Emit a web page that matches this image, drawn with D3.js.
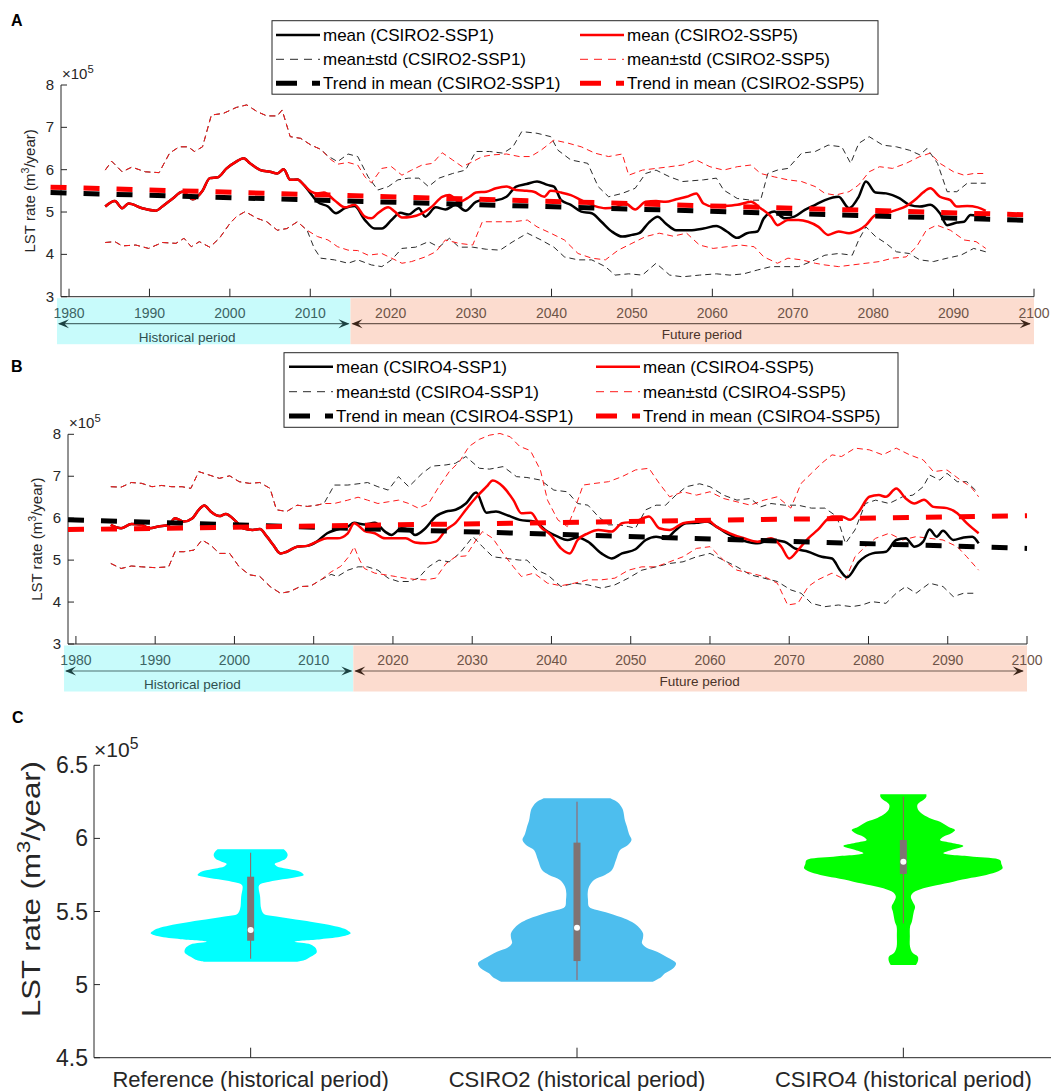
<!DOCTYPE html>
<html>
<head>
<meta charset="utf-8">
<script src="https://cdn.jsdelivr.net/npm/d3@7"></script>
<style>
  body { margin: 0; background: #fff; }
  svg { display: block; font-family: "Liberation Sans", Arial, Helvetica, sans-serif; }
</style>
</head>
<body>
<svg id="chart" width="1051" height="1091"></svg>
<script>
'use strict'

// ---------- shared ticks / labels ----------
const yearTicks = [1980, 1990, 2000, 2010, 2020, 2030, 2040, 2050, 2060, 2070, 2080, 2090, 2100]
const rateTicks = [3, 4, 5, 6, 7, 8]            // x10^5 m3/year
const violinTicks = [4.5, 5, 5.5, 6, 6.5]
const violinCats = ['Reference (historical period)', 'CSIRO2 (historical period)', 'CSIRO4 (historical period)']

// ---------- panel A : CSIRO2 ----------
// [year, value]; the historical part is the same for both scenarios
const aHistMean = [[1984.5,5.13],[1985.7,5.26],[1986.6,5.09],[1987.4,5.20],[1989.1,5.09],[1990.8,5.03],[1991.6,5.13],[1992.9,5.32],[1994.1,5.48],[1995.4,5.30],[1996.6,5.50],[1997.5,5.80],[1998.5,5.82],[1999.6,6.03],[2000.8,6.19],[2001.7,6.27],[2002.5,6.15],[2003.8,5.99],[2005.0,5.95],[2005.9,5.91],[2006.7,6.01],[2007.5,5.76],[2008.4,5.77],[2009.2,5.64]]
const aSsp1Mean = [[2010.0,5.45],[2010.9,5.24],[2012.2,5.13],[2013.2,4.97],[2014.3,5.09],[2015.5,5.14],[2016.8,4.81],[2018.0,4.61],[2018.9,4.61],[2020.1,4.81],[2021.2,4.98],[2022.2,4.94],[2023.5,5.09],[2024.3,4.89],[2025.6,5.11],[2026.8,5.06],[2028.1,5.17],[2029.3,5.03],[2030.6,5.24],[2031.9,5.30],[2033.1,5.28],[2034.4,5.36],[2035.6,5.60],[2036.9,5.66],[2038.2,5.72],[2039.5,5.64],[2040.3,5.60],[2041.2,5.28],[2042.4,5.17],[2043.7,5.01],[2045.0,4.97],[2046.2,4.77],[2047.5,4.54],[2048.8,4.42],[2050.0,4.46],[2050.9,4.50],[2052.1,4.75],[2053.2,4.89],[2054.2,4.73],[2055.5,4.57],[2057.2,4.57],[2058.9,4.61],[2060.5,4.67],[2061.8,4.54],[2063.1,4.39],[2064.3,4.50],[2065.6,4.54],[2066.4,4.85],[2067.7,5.01],[2069.0,4.85],[2070.2,4.89],[2071.5,5.05],[2072.8,5.17],[2074.0,5.28],[2075.7,5.36],[2077.0,5.09],[2078.2,5.36],[2079.1,5.72],[2080.3,5.46],[2081.6,5.44],[2083.3,5.32],[2084.5,5.17],[2085.8,5.13],[2087.1,5.17],[2088.3,4.97],[2089.2,4.69],[2090.4,4.75],[2091.3,4.77],[2092.1,4.93],[2094.0,4.87]]
const aSsp5Mean = [[2010.1,5.48],[2010.9,5.44],[2011.7,5.46],[2013.0,5.28],[2014.3,5.11],[2015.5,5.17],[2016.8,4.89],[2017.6,4.85],[2018.4,4.97],[2019.7,5.11],[2020.5,5.01],[2021.4,4.87],[2022.6,4.89],[2023.9,4.97],[2025.2,5.14],[2026.4,5.36],[2027.3,5.40],[2028.5,5.24],[2029.8,5.36],[2030.6,5.46],[2031.9,5.48],[2033.1,5.56],[2034.4,5.60],[2035.6,5.52],[2036.9,5.50],[2037.8,5.48],[2039.1,5.36],[2039.9,5.50],[2041.2,5.46],[2042.4,5.40],[2043.7,5.28],[2045.4,5.14],[2046.7,5.09],[2047.9,5.11],[2049.2,5.20],[2050.4,5.06],[2051.7,5.24],[2053.0,5.26],[2054.2,5.24],[2055.5,5.30],[2056.8,5.36],[2058.0,5.44],[2058.9,5.20],[2060.1,5.13],[2061.4,5.14],[2063.1,5.17],[2064.8,5.24],[2066.0,5.09],[2067.3,4.89],[2068.1,4.69],[2069.4,4.81],[2070.7,4.81],[2071.9,4.77],[2073.2,4.65],[2074.4,4.46],[2075.7,4.54],[2077.0,4.50],[2078.2,4.57],[2079.1,4.69],[2080.3,4.93],[2081.6,4.97],[2082.9,5.05],[2084.1,5.14],[2085.4,5.32],[2086.2,5.46],[2087.1,5.56],[2088.3,5.36],[2089.6,5.28],[2090.4,5.13],[2091.7,5.14],[2093.0,5.11],[2094.0,5.03]]
const aHistUpper = [[1984.5,5.99],[1985.3,6.20],[1986.6,5.95],[1987.8,6.06],[1989.5,5.95],[1991.2,5.93],[1992.5,6.39],[1993.7,6.54],[1994.8,6.54],[1995.6,6.43],[1996.6,6.54],[1997.7,7.29],[1999.2,7.33],[2000.8,7.47],[2002.1,7.53],[2003.4,7.37],[2004.6,7.27],[2005.9,7.27],[2006.5,7.41],[2007.5,6.78],[2008.8,6.74],[2010.1,6.58],[2011.3,6.48]]
const aSsp1Upper = [[2012.2,6.32],[2013.4,6.19],[2014.7,6.37],[2015.9,6.31],[2017.2,5.83],[2018.4,5.52],[2019.7,5.60],[2020.9,5.76],[2022.2,5.80],[2023.5,5.80],[2024.7,5.60],[2026.0,5.80],[2027.7,5.91],[2029.3,5.99],[2030.6,6.43],[2032.3,6.43],[2034.0,6.39],[2035.2,6.54],[2036.3,6.90],[2038.2,6.86],[2039.9,6.78],[2040.8,6.46],[2042.4,6.23],[2044.5,6.15],[2045.8,5.60],[2047.1,5.36],[2048.8,5.44],[2050.4,5.56],[2051.7,5.91],[2053.0,5.99],[2054.7,5.83],[2056.3,5.72],[2058.9,5.76],[2060.5,5.80],[2061.4,5.52],[2063.1,5.32],[2064.8,5.28],[2066.0,5.28],[2066.9,5.91],[2068.1,5.99],[2069.4,6.03],[2071.1,6.39],[2072.8,6.43],[2074.4,6.58],[2076.1,6.54],[2077.2,6.15],[2078.2,6.62],[2079.5,6.78],[2081.2,6.58],[2082.9,6.54],[2084.5,6.46],[2085.8,6.35],[2086.7,6.50],[2088.0,6.15],[2089.2,5.48],[2090.4,5.48],[2091.7,5.68],[2094.0,5.68]]
const aSsp5Upper = [[2012.6,6.23],[2013.4,6.13],[2014.7,6.17],[2015.9,6.11],[2016.8,5.83],[2017.6,5.69],[2018.9,6.03],[2020.1,6.07],[2021.4,5.87],[2022.6,5.99],[2023.9,6.11],[2025.2,6.15],[2026.4,6.40],[2027.7,6.23],[2028.9,6.07],[2030.2,6.19],[2031.4,6.31],[2032.7,6.35],[2034.4,6.37],[2036.0,6.31],[2037.4,6.31],[2038.7,6.46],[2040.3,6.70],[2042.0,6.63],[2043.7,6.54],[2045.4,6.39],[2047.1,6.31],[2048.8,6.37],[2049.6,5.87],[2051.3,5.99],[2053.0,6.03],[2054.7,6.07],[2056.3,6.11],[2058.0,6.23],[2059.7,6.07],[2061.4,5.99],[2063.1,6.07],[2064.8,6.11],[2066.0,5.91],[2067.7,5.83],[2069.4,5.76],[2071.1,5.72],[2072.8,5.60],[2074.0,5.44],[2075.3,5.40],[2077.0,5.48],[2078.2,5.64],[2079.5,5.95],[2080.8,6.07],[2082.4,6.03],[2084.1,6.15],[2085.8,6.31],[2087.1,6.39],[2088.3,6.15],[2090.0,5.95],[2091.3,5.87],[2092.5,5.91],[2094.0,5.91]]
const aHistLower = [[1984.5,4.28],[1985.7,4.30],[1986.6,4.20],[1988.3,4.22],[1989.9,4.14],[1991.6,4.28],[1993.3,4.26],[1994.3,4.38],[1995.2,4.18],[1996.2,4.30],[1997.5,4.17],[1998.7,4.38],[2000.0,4.73],[2000.8,4.89],[2001.9,5.01],[2003.4,4.85],[2004.6,4.77],[2005.9,4.57],[2007.1,4.61],[2008.4,4.77],[2009.6,4.57]]
const aSsp1Lower = [[2010.5,4.14],[2011.3,3.91],[2013.0,3.87],[2014.7,3.79],[2015.9,3.87],[2017.6,3.75],[2018.9,3.71],[2020.1,3.87],[2021.4,4.14],[2023.1,4.17],[2024.7,4.30],[2026.0,4.17],[2027.3,4.38],[2028.5,4.17],[2030.2,4.17],[2031.9,4.12],[2033.6,4.10],[2035.2,4.30],[2037.0,4.50],[2038.7,4.34],[2040.3,4.17],[2041.6,3.94],[2043.3,3.87],[2045.0,3.87],[2046.7,3.71],[2047.9,3.51],[2049.6,3.54],[2051.3,3.51],[2053.0,3.79],[2054.7,3.51],[2056.3,3.47],[2058.4,3.51],[2060.5,3.54],[2062.2,3.51],[2063.9,3.54],[2065.6,3.63],[2067.3,3.71],[2069.0,3.71],[2070.7,3.71],[2072.3,3.83],[2074.0,3.98],[2075.7,4.02],[2077.4,3.98],[2078.2,4.34],[2079.1,4.65],[2080.3,4.42],[2081.6,4.26],[2082.9,4.06],[2084.5,4.02],[2085.8,3.87],[2087.5,3.83],[2089.2,3.91],[2090.9,3.98],[2092.5,4.14],[2094.0,4.06]]
const aSsp5Lower = [[2010.9,4.42],[2012.2,4.34],[2013.4,4.18],[2014.7,4.10],[2015.9,4.09],[2017.2,3.98],[2018.9,4.02],[2020.1,3.91],[2021.4,3.79],[2022.6,3.83],[2024.3,3.94],[2025.6,4.06],[2026.8,4.34],[2028.5,4.26],[2030.2,4.22],[2031.4,4.77],[2033.1,4.77],[2035.2,4.77],[2037.0,4.81],[2038.2,4.65],[2039.9,4.50],[2041.6,4.34],[2043.3,4.02],[2045.0,3.91],[2046.7,3.87],[2048.3,4.10],[2050.0,4.26],[2051.7,4.42],[2053.4,4.50],[2055.1,4.43],[2056.8,4.50],[2058.4,4.22],[2060.1,4.14],[2061.8,4.18],[2063.5,4.22],[2065.2,4.18],[2066.4,3.94],[2068.1,3.79],[2069.4,3.91],[2071.1,3.87],[2072.8,3.79],[2074.0,3.75],[2075.7,3.71],[2077.4,3.75],[2079.1,3.79],[2080.8,3.83],[2082.4,3.91],[2084.1,3.94],[2085.4,4.18],[2086.6,4.57],[2087.9,4.69],[2089.6,4.57],[2091.3,4.34],[2092.8,4.30],[2094.0,4.14]]
const aSsp1Trend = [[1977.7,5.46],[2100,4.80]]
const aSsp5Trend = [[1977.7,5.54],[2100,4.88]]

// ---------- panel B : CSIRO4 ----------
const bHistMean = [[1984.4,5.84],[1985.7,5.76],[1987.0,5.86],[1988.3,5.84],[1989.3,5.76],[1990.4,5.80],[1991.7,5.84],[1992.5,6.00],[1993.6,5.92],[1994.7,6.00],[1995.5,6.20],[1996.2,6.30],[1997.0,6.16],[1998.1,6.05],[1998.9,6.10],[2000.2,5.92],[2001.1,5.76],[2002.3,5.72],[2003.2,5.74],[2004.1,5.56],[2004.9,5.36],[2005.8,5.16],[2006.6,5.20],[2007.9,5.32],[2009.2,5.34],[2010.4,5.44]]
const bSsp1Mean = [[2011.7,5.64],[2013.0,5.73],[2014.3,5.80],[2015.1,5.89],[2016.4,5.85],[2017.7,5.89],[2019.0,5.68],[2019.8,5.60],[2021.1,5.76],[2022.0,5.72],[2022.8,5.60],[2024.1,5.76],[2025.4,6.04],[2026.7,6.16],[2027.9,6.20],[2029.2,6.35],[2030.5,6.61],[2031.8,6.13],[2033.0,6.16],[2034.3,6.08],[2036.0,5.96],[2037.8,5.92],[2039.5,5.68],[2040.8,5.56],[2042.0,5.48],[2043.3,5.54],[2044.6,5.44],[2046.3,5.16],[2047.6,5.04],[2048.9,5.16],[2050.6,5.26],[2051.9,5.48],[2053.2,5.56],[2054.4,5.52],[2055.7,5.72],[2057.0,5.88],[2058.3,5.89],[2059.6,5.92],[2060.8,5.80],[2062.1,5.64],[2063.4,5.52],[2064.7,5.44],[2066.0,5.40],[2067.7,5.48],[2069.4,5.44],[2070.7,5.28],[2072.4,5.20],[2074.1,5.08],[2075.4,5.04],[2076.4,4.76],[2077.3,4.59],[2078.8,4.96],[2080.5,5.16],[2082.2,5.20],[2083.5,5.48],[2084.7,5.52],[2085.8,5.32],[2086.9,5.44],[2087.7,5.73],[2088.6,5.56],[2089.4,5.70],[2090.7,5.48],[2092.0,5.54],[2093.1,5.56],[2093.9,5.40]]
const bSsp5Mean = [[2011.7,5.52],[2013.0,5.52],[2014.3,5.64],[2015.1,5.88],[2016.4,5.70],[2017.7,5.64],[2019.0,5.52],[2020.3,5.52],[2021.6,5.52],[2022.8,5.42],[2024.1,5.40],[2025.4,5.44],[2026.7,5.72],[2027.9,5.89],[2029.2,6.20],[2030.5,6.50],[2031.8,6.75],[2032.6,6.90],[2033.9,6.75],[2035.2,6.43],[2036.2,6.12],[2037.4,6.13],[2038.6,5.80],[2039.9,5.60],[2041.2,5.28],[2042.3,5.16],[2043.3,5.48],[2044.6,5.64],[2045.9,5.72],[2047.6,5.68],[2048.9,5.88],[2050.6,5.92],[2052.3,6.04],[2053.6,5.76],[2054.9,5.72],[2056.6,5.88],[2058.3,5.92],[2059.6,5.96],[2060.8,5.80],[2062.5,5.64],[2064.3,5.52],[2066.0,5.44],[2067.7,5.52],[2069.0,5.32],[2070.0,5.04],[2071.1,5.24],[2072.4,5.52],[2073.6,5.72],[2075.4,6.04],[2076.6,6.04],[2077.7,5.96],[2078.8,6.16],[2080.1,6.51],[2081.3,6.55],[2082.2,6.51],[2083.5,6.71],[2084.7,6.47],[2085.8,6.35],[2087.0,6.44],[2088.2,6.27],[2089.9,6.24],[2091.2,6.12],[2092.4,5.88],[2093.9,5.64]]
const bHistUpper = [[1984.4,6.75],[1985.7,6.74],[1987.0,6.85],[1988.3,6.83],[1989.6,6.75],[1990.8,6.78],[1992.1,6.75],[1993.4,6.75],[1994.5,6.71],[1995.5,7.11],[1996.8,7.03],[1998.1,6.95],[1999.4,7.01],[2000.6,6.87],[2001.9,6.83],[2003.2,6.85],[2004.5,6.71],[2005.3,6.20],[2006.6,6.16],[2007.9,6.31],[2009.2,6.28],[2010.4,6.31],[2011.3,6.35]]
const bSsp1Upper = [[2012.6,6.79],[2014.3,6.79],[2015.6,6.82],[2016.8,6.85],[2018.1,6.75],[2019.4,6.67],[2020.7,6.99],[2022.0,6.75],[2023.7,7.07],[2024.9,7.24],[2026.7,7.27],[2027.9,7.31],[2029.2,7.47],[2030.9,7.19],[2032.2,7.17],[2033.9,7.23],[2035.6,6.99],[2036.9,6.97],[2038.6,6.91],[2040.3,6.67],[2042.0,6.63],[2043.3,6.35],[2044.6,6.31],[2045.9,6.04],[2047.2,5.84],[2048.5,5.84],[2049.7,5.80],[2050.6,5.76],[2051.9,6.20],[2053.2,6.31],[2054.4,6.31],[2055.7,6.55],[2057.0,6.75],[2058.7,6.82],[2060.0,6.75],[2061.7,6.55],[2063.4,6.43],[2065.1,6.47],[2066.4,6.27],[2067.7,6.35],[2069.4,6.31],[2071.1,6.31],[2072.8,6.24],[2074.5,6.24],[2076.0,6.04],[2077.1,5.40],[2078.3,5.72],[2079.6,6.35],[2080.9,6.43],[2082.6,6.35],[2084.3,6.51],[2085.6,6.55],[2086.9,6.75],[2087.7,7.03],[2089.0,6.91],[2089.9,7.07],[2091.2,6.87],[2092.4,6.87],[2093.7,6.63]]
const bSsp5Upper = [[2012.6,6.35],[2014.3,6.43],[2015.6,6.50],[2016.8,6.43],[2018.1,6.35],[2019.4,6.39],[2020.7,6.43],[2022.0,6.35],[2023.2,6.24],[2024.5,6.35],[2025.8,6.75],[2027.1,7.11],[2028.4,7.35],[2029.6,7.71],[2030.9,7.88],[2032.2,7.98],[2033.5,8.02],[2034.8,7.94],[2036.0,7.71],[2037.1,7.63],[2037.4,7.59],[2038.6,7.15],[2039.5,6.43],[2040.8,5.96],[2042.0,5.80],[2042.9,6.20],[2044.0,6.79],[2045.5,6.83],[2047.2,6.87],[2048.9,6.99],[2050.6,7.15],[2052.3,7.19],[2053.6,6.83],[2054.9,6.51],[2056.6,6.63],[2058.3,6.55],[2060.0,6.63],[2061.7,6.47],[2063.4,6.39],[2065.1,6.31],[2066.8,6.43],[2068.5,6.51],[2070.2,6.24],[2071.5,6.83],[2072.8,7.07],[2074.1,7.31],[2075.4,7.51],[2076.6,7.47],[2078.3,7.67],[2080.1,7.63],[2081.8,7.51],[2083.5,7.67],[2085.2,7.51],[2086.9,7.39],[2088.2,7.11],[2089.9,7.15],[2091.6,6.91],[2092.9,6.75],[2093.9,6.51]]
const bHistLower = [[1984.4,4.92],[1985.7,4.80],[1987.0,4.86],[1988.3,4.84],[1990.0,4.82],[1991.7,4.84],[1992.5,5.20],[1993.6,5.20],[1994.9,5.24],[1995.9,5.48],[1997.0,5.36],[1998.1,5.16],[1999.4,5.16],[2000.6,4.84],[2001.9,4.65],[2003.2,4.61],[2004.5,4.37],[2005.8,4.21],[2007.0,4.25],[2008.3,4.37],[2009.6,4.38],[2010.9,4.53]]
const bSsp1Lower = [[2012.2,4.66],[2013.0,4.61],[2014.3,4.76],[2015.6,4.84],[2016.8,4.84],[2018.1,4.76],[2019.4,4.57],[2020.7,4.49],[2022.0,4.49],[2023.2,4.57],[2024.5,4.84],[2025.8,5.00],[2027.1,4.96],[2028.4,5.16],[2030.1,5.56],[2031.3,5.32],[2032.6,5.08],[2034.3,5.04],[2036.0,5.00],[2036.9,5.00],[2038.2,4.76],[2039.5,4.65],[2041.2,4.37],[2042.9,4.45],[2044.6,4.41],[2046.3,4.33],[2048.0,4.41],[2049.7,4.57],[2051.4,4.76],[2053.2,4.84],[2054.9,4.92],[2056.6,4.96],[2058.3,5.08],[2060.0,5.16],[2061.7,5.00],[2063.4,4.84],[2065.1,4.65],[2066.8,4.57],[2068.5,4.49],[2070.2,4.29],[2071.5,4.21],[2072.8,3.97],[2074.5,3.89],[2076.2,3.93],[2077.9,3.89],[2079.2,3.93],[2080.4,4.01],[2082.2,3.97],[2083.5,4.21],[2084.7,4.37],[2086.0,4.21],[2087.7,4.45],[2089.4,4.37],[2090.7,4.13],[2092.0,4.21],[2093.5,4.21]]
const bSsp5Lower = [[2012.2,4.72],[2013.4,4.85],[2014.5,5.10],[2015.1,5.32],[2015.8,5.00],[2016.4,4.80],[2017.7,4.69],[2019.0,4.65],[2020.3,4.61],[2021.5,4.57],[2022.8,4.54],[2024.1,4.53],[2025.4,4.57],[2026.7,4.92],[2027.9,5.08],[2029.2,5.10],[2030.5,5.48],[2031.3,5.68],[2032.6,5.52],[2033.9,5.16],[2035.2,4.84],[2036.2,4.61],[2037.8,4.69],[2039.5,4.45],[2041.2,4.39],[2042.9,4.45],[2044.6,4.53],[2046.3,4.53],[2048.0,4.57],[2049.7,4.76],[2051.4,4.84],[2053.2,4.84],[2054.9,4.96],[2056.6,5.08],[2058.3,5.28],[2060.0,5.32],[2061.7,5.00],[2063.4,4.76],[2065.1,4.69],[2066.8,4.61],[2068.5,4.45],[2069.8,3.93],[2071.1,3.97],[2072.4,4.37],[2073.6,4.53],[2075.4,4.69],[2077.1,4.53],[2078.3,5.08],[2079.6,5.32],[2080.9,5.52],[2082.6,5.64],[2084.3,5.48],[2086.0,5.56],[2087.7,5.52],[2089.4,5.48],[2091.2,5.32],[2092.4,5.08],[2093.9,4.76]]
const bSsp1Trend = [[1979,5.96],[2100,5.28]]
const bSsp5Trend = [[1979,5.68],[2100,6.01]]

// ---------- panel C : violins (value, relative half width) ----------
const refViolin = [[5.157,0.47],[5.17,0.55],[5.19,0.60],[5.22,0.66],[5.25,0.65],[5.275,0.60],[5.293,0.44],[5.31,0.70],[5.33,0.92],[5.351,1.00],[5.37,0.97],[5.39,0.90],[5.41,0.78],[5.43,0.60],[5.445,0.45],[5.465,0.26],[5.485,0.13],[5.52,0.105],[5.60,0.095],[5.68,0.085],[5.70,0.16],[5.716,0.28],[5.735,0.45],[5.75,0.53],[5.77,0.50],[5.79,0.38],[5.81,0.26],[5.825,0.24],[5.84,0.29],[5.86,0.35],[5.886,0.37],[5.905,0.36],[5.925,0.33]]
const csiro2Violin = [[5.02,0.76],[5.05,0.84],[5.077,0.88],[5.11,0.96],[5.146,0.99],[5.18,0.92],[5.225,0.80],[5.25,0.70],[5.282,0.65],[5.32,0.66],[5.351,0.66],[5.39,0.62],[5.419,0.57],[5.45,0.48],[5.488,0.32],[5.51,0.20],[5.533,0.12],[5.58,0.11],[5.624,0.107],[5.67,0.12],[5.716,0.17],[5.75,0.28],[5.784,0.35],[5.852,0.39],[5.921,0.43],[5.95,0.50],[5.989,0.545],[6.03,0.52],[6.08,0.50],[6.12,0.48],[6.194,0.46],[6.22,0.44],[6.25,0.40],[6.274,0.33]]
const csiro4Violin = [[5.134,0.125],[5.16,0.145],[5.191,0.145],[5.22,0.09],[5.259,0.067],[5.33,0.065],[5.396,0.067],[5.43,0.085],[5.464,0.095],[5.50,0.105],[5.533,0.117],[5.565,0.095],[5.601,0.075],[5.63,0.10],[5.659,0.20],[5.68,0.33],[5.704,0.50],[5.73,0.68],[5.75,0.83],[5.775,0.95],[5.795,0.993],[5.825,0.98],[5.852,0.967],[5.875,0.70],[5.898,0.40],[5.92,0.48],[5.948,0.60],[5.97,0.48],[5.989,0.367],[6.012,0.40],[6.035,0.48],[6.057,0.517],[6.08,0.45],[6.114,0.367],[6.14,0.26],[6.172,0.18],[6.20,0.145],[6.228,0.14],[6.25,0.17],[6.263,0.20],[6.285,0.23],[6.302,0.23]]
// [whisker low, q1, median, q3, whisker high]
const violinStats = [[5.177,5.30,5.373,5.738,5.902],[5.031,5.161,5.389,5.971,6.251],[5.419,5.757,5.840,5.989,6.285]]
const violinColors = ['#00ffff', '#4dbeee', '#00ff00']

const svg = d3.select('#chart')
const axisColor = '#262626'

function addRateLabel (sel, size) {
	sel.append('tspan').text('LST rate (m')
	sel.append('tspan').text('3').attr('font-size', size * 0.72).attr('dy', -size * 0.38)
	sel.append('tspan').text('/year)').attr('dy', size * 0.38)
}

function addExponent (g, x, y, size) {
	const t = g.append('text').attr('x', x).attr('y', y).attr('font-size', size).attr('fill', axisColor)
	t.append('tspan').text('\u00d710')
	t.append('tspan').text('5').attr('font-size', size * 0.75).attr('dy', -size * 0.4)
}

function arrowHead (g, x0, y0, dir, color) {
	// dir = 1 points right, -1 points left
	const l = 11, h = 4.5
	g.append('path')
		.attr('d', `M${x0},${y0} L${x0 - dir * l},${y0 - h} L${x0 - dir * l * 0.6},${y0} L${x0 - dir * l},${y0 + h} Z`)
		.attr('fill', color)
}

// time series panel (A and B)
function drawTimePanel (p) {
	const x = d3.scaleLinear().domain([1979, 2100]).range([p.left, p.right])
	const y = d3.scaleLinear().domain([3, 8]).range([p.bottom, p.top])
	const g = svg.append('g')

	// period bands under the x axis
	const bandTop = p.bottom + 1.5, bandH = 46
	g.append('rect').attr('x', x(1978.5)).attr('y', bandTop)
		.attr('width', x(2015) - x(1978.5)).attr('height', bandH).attr('fill', '#c8fbfb')
	g.append('rect').attr('x', x(2015)).attr('y', bandTop)
		.attr('width', x(2100) - x(2015)).attr('height', bandH).attr('fill', '#fcdccf')

	// double arrows
	const ay = p.bottom + 27
	g.append('line').attr('x1', x(1978.5) + 2).attr('x2', x(2015) - 2).attr('y1', ay).attr('y2', ay)
		.attr('stroke', '#4d7070').attr('stroke-width', 1.2)
	arrowHead(g, x(1978.5) + 1, ay, -1, '#1c4242')
	arrowHead(g, x(2015) - 1, ay, 1, '#1c4242')
	g.append('line').attr('x1', x(2015) + 2).attr('x2', x(2099.5)).attr('y1', ay).attr('y2', ay)
		.attr('stroke', '#6f5a50').attr('stroke-width', 1.2)
	arrowHead(g, x(2015) + 1, ay, -1, '#3b2418')
	arrowHead(g, x(2099.6), ay, 1, '#3b2418')

	g.append('text').attr('x', x(1994.7)).attr('y', p.bottom + 45).attr('text-anchor', 'middle')
		.attr('font-size', 13.5).attr('fill', '#2f4f4f').text('Historical period')
	g.append('text').attr('x', x(2058.7)).attr('y', p.bottom + 42).attr('text-anchor', 'middle')
		.attr('font-size', 13.5).attr('fill', '#4a3329').text('Future period')

	// year labels inside the bands
	g.selectAll('.yr').data(yearTicks).enter().append('text')
		.attr('x', d => x(d)).attr('y', p.bottom + 21).attr('text-anchor', 'middle')
		.attr('font-size', 14).attr('fill', d => d < 2015 ? '#3c6464' : '#6e5448')
		.text(d => d)

	// axes (MATLAB style, ticks pointing inside)
	g.append('line').attr('x1', p.left).attr('x2', p.left).attr('y1', p.top).attr('y2', p.bottom)
		.attr('stroke', axisColor)
	g.append('line').attr('x1', p.left).attr('x2', x(2100)).attr('y1', p.bottom).attr('y2', p.bottom)
		.attr('stroke', axisColor)
	g.selectAll('.xt').data(yearTicks).enter().append('line')
		.attr('x1', d => x(d)).attr('x2', d => x(d)).attr('y1', p.bottom).attr('y2', p.bottom - 8)
		.attr('stroke', axisColor)
	g.selectAll('.yt').data(rateTicks).enter().append('line')
		.attr('x1', p.left).attr('x2', p.left + 6).attr('y1', d => y(d)).attr('y2', d => y(d))
		.attr('stroke', axisColor)
	g.selectAll('.yl').data(rateTicks).enter().append('text')
		.attr('x', p.left - 7).attr('y', d => y(d) + 5).attr('text-anchor', 'end')
		.attr('font-size', 15).attr('fill', axisColor).text(d => d)
	addExponent(g, p.left + 1, p.top - 6, 15)
	const yl = g.append('text')
		.attr('transform', `translate(${p.left - 26},${(p.top + p.bottom) / 2}) rotate(-90)`)
		.attr('text-anchor', 'middle').attr('font-size', 15).attr('fill', axisColor)
	addRateLabel(yl, 15)

	// series
	const line = d3.line().x(d => x(d[0])).y(d => y(d[1]))
	const smooth = d3.line().x(d => x(d[0])).y(d => y(d[1])).curve(d3.curveMonotoneX)
	const std = [
		[p.hUp.concat(p.up1), '#2a2a2a'], [p.hLo.concat(p.lo1), '#2a2a2a'],
		[p.hUp.concat(p.up5), '#ff1a1a'], [p.hLo.concat(p.lo5), '#ff1a1a']
	]
	std.forEach(s => {
		g.append('path').attr('d', line(s[0])).attr('fill', 'none')
			.attr('stroke', s[1]).attr('stroke-width', 1).attr('stroke-dasharray', '6,4')
	})
	g.append('path').attr('d', smooth(p.hMean.concat(p.mean1))).attr('fill', 'none')
		.attr('stroke', '#000').attr('stroke-width', 2.5)
	g.append('path').attr('d', smooth(p.hMean.concat(p.mean5))).attr('fill', 'none')
		.attr('stroke', '#ff0000').attr('stroke-width', 2.5)
	g.append('path').attr('d', line(p.trend1)).attr('fill', 'none')
		.attr('stroke', '#000').attr('stroke-width', 5).attr('stroke-dasharray', '16,17')
	g.append('path').attr('d', line(p.trend5)).attr('fill', 'none')
		.attr('stroke', '#ff0000').attr('stroke-width', 5).attr('stroke-dasharray', '16,17')
		.attr('transform', 'translate(0,-2)')

	// legend
	const L = p.legend
	const lg = g.append('g').attr('transform', `translate(${L.x},${L.y})`)
	lg.append('rect').attr('width', L.w).attr('height', L.h).attr('fill', '#fff').attr('stroke', axisColor)
	const items = [
		[`mean (${p.model}-SSP1)`, '#000', 2.5, null], [`mean (${p.model}-SSP5)`, '#ff0000', 2.5, null],
		[`mean\u00b1std (${p.model}-SSP1)`, '#2a2a2a', 1, '8,6'], [`mean\u00b1std (${p.model}-SSP5)`, '#ff1a1a', 1, '8,6'],
		[`Trend in mean (${p.model}-SSP1)`, '#000', 5, '21,15'], [`Trend in mean (${p.model}-SSP5)`, '#ff0000', 5, '21,15']
	]
	items.forEach((it, i) => {
		const col = i % 2, row = Math.floor(i / 2)
		const cx = L.cols[col], cy = L.rows[row]
		lg.append('line').attr('x1', cx).attr('x2', cx + 44).attr('y1', cy).attr('y2', cy)
			.attr('stroke', it[1]).attr('stroke-width', it[2]).attr('stroke-dasharray', it[3])
		lg.append('text').attr('x', cx + 47).attr('y', cy + 6).attr('font-size', 17)
			.attr('fill', '#000').text(it[0])
	})
}

drawTimePanel({
	model: 'CSIRO2', left: 61, right: 1034, top: 85, bottom: 296.7,
	hMean: aHistMean, mean1: aSsp1Mean, mean5: aSsp5Mean,
	hUp: aHistUpper, up1: aSsp1Upper, up5: aSsp5Upper,
	hLo: aHistLower, lo1: aSsp1Lower, lo5: aSsp5Lower,
	trend1: aSsp1Trend, trend5: aSsp5Trend,
	legend: { x: 272, y: 20.7, w: 606, h: 73.5, cols: [4, 308], rows: [14.3, 38.6, 62.6] }
})
drawTimePanel({
	model: 'CSIRO4', left: 68, right: 1027, top: 434.3, bottom: 644,
	hMean: bHistMean, mean1: bSsp1Mean, mean5: bSsp5Mean,
	hUp: bHistUpper, up1: bSsp1Upper, up5: bSsp5Upper,
	hLo: bHistLower, lo1: bSsp1Lower, lo5: bSsp5Lower,
	trend1: bSsp1Trend, trend5: bSsp5Trend,
	legend: { x: 284, y: 352.7, w: 614, h: 74.6, cols: [5, 312], rows: [14, 39, 63.3] }
})

// panel letters
svg.append('text').attr('x', 11).attr('y', 26).attr('font-size', 16).attr('font-weight', 'bold').text('A')
svg.append('text').attr('x', 11).attr('y', 372).attr('font-size', 16).attr('font-weight', 'bold').text('B')
svg.append('text').attr('x', 12).attr('y', 723).attr('font-size', 16).attr('font-weight', 'bold').text('C')

// ---------- panel C ----------
const xC = d3.scaleLinear().domain([0.52, 3.48]).range([94, 1060])
const yC = d3.scaleLinear().domain([4.5, 6.5]).range([1057.7, 765.3])
const wC = d3.scaleLinear().domain([0, 1]).range([0, 100])
const gc = svg.append('g')

gc.append('line').attr('x1', 94).attr('x2', 94).attr('y1', yC(6.5)).attr('y2', yC(4.5)).attr('stroke', axisColor)
gc.append('line').attr('x1', 94).attr('x2', 1051).attr('y1', yC(4.5)).attr('y2', yC(4.5)).attr('stroke', axisColor)
gc.selectAll('.cyt').data(violinTicks).enter().append('line')
	.attr('x1', 94).attr('x2', 100).attr('y1', d => yC(d)).attr('y2', d => yC(d)).attr('stroke', axisColor)
gc.selectAll('.cyl').data(violinTicks).enter().append('text')
	.attr('x', 88).attr('y', d => yC(d) + 8).attr('text-anchor', 'end').attr('font-size', 23)
	.attr('fill', axisColor).text(d => d)
gc.selectAll('.cxt').data(violinCats).enter().append('line')
	.attr('x1', (d, i) => xC(i + 1)).attr('x2', (d, i) => xC(i + 1))
	.attr('y1', yC(4.5)).attr('y2', yC(4.5) - 10).attr('stroke', axisColor)
gc.selectAll('.cxl').data(violinCats).enter().append('text')
	.attr('x', (d, i) => xC(i + 1)).attr('y', 1087).attr('text-anchor', 'middle').attr('font-size', 22)
	.attr('fill', axisColor).text(d => d)
addExponent(gc, 94, 757, 21)
// long, narrow y label as in the original export
const ylc = gc.append('text')
	.attr('transform', `translate(40,889) rotate(-90)`)
	.attr('text-anchor', 'middle').attr('font-size', 26).attr('fill', axisColor)
	.attr('textLength', 256).attr('lengthAdjust', 'spacingAndGlyphs')
addRateLabel(ylc, 26)

const violins = [refViolin, csiro2Violin, csiro4Violin]
violins.forEach((v, i) => {
	const cx = xC(i + 1)
	const area = d3.area()
		.y(d => yC(d[0]))
		.x0(d => cx - wC(d[1]))
		.x1(d => cx + wC(d[1]))
		.curve(d3.curveCatmullRom)
	gc.append('path').attr('d', area(v)).attr('fill', violinColors[i])
	const s = violinStats[i]
	gc.append('line').attr('x1', cx).attr('x2', cx).attr('y1', yC(s[0])).attr('y2', yC(s[4]))
		.attr('stroke', '#a05a5a').attr('stroke-width', 1)
	gc.append('rect').attr('x', cx - 3.5).attr('width', 7).attr('y', yC(s[3])).attr('height', yC(s[1]) - yC(s[3]))
		.attr('fill', '#7f7373')
	gc.append('circle').attr('cx', cx).attr('cy', yC(s[2])).attr('r', 3).attr('fill', '#fff')
})
</script>
</body>
</html>
